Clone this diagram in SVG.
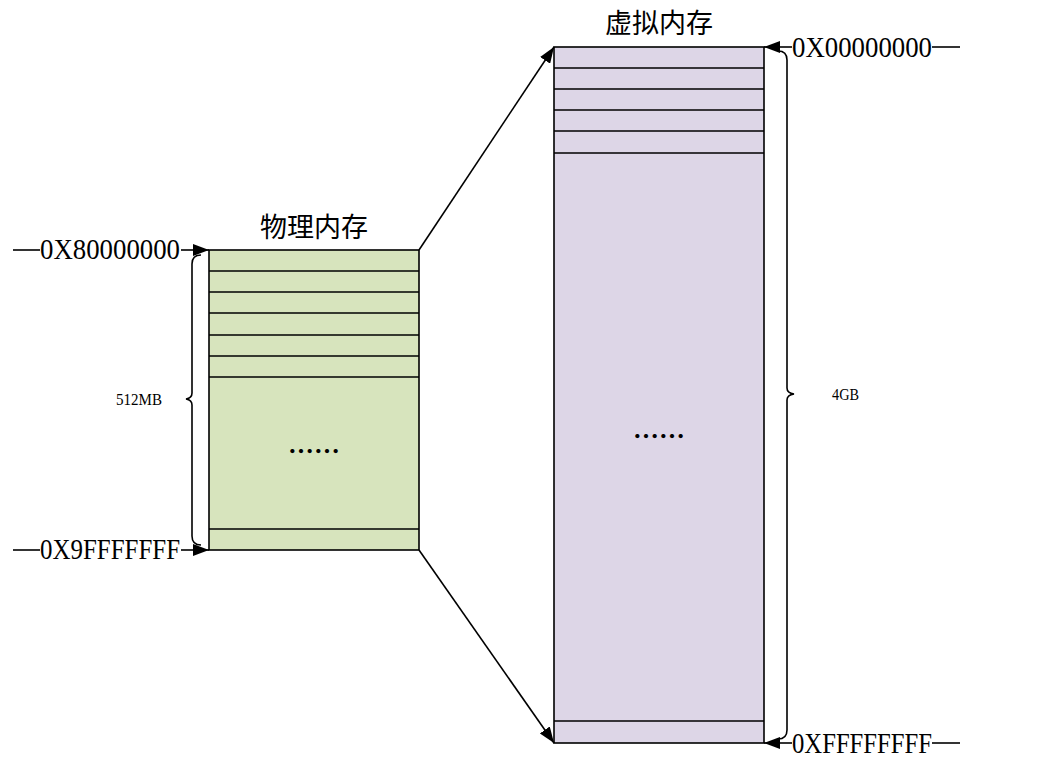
<svg xmlns="http://www.w3.org/2000/svg" width="1045" height="761" viewBox="0 0 1045 761">
<style>
.box{stroke:#000;stroke-width:1.6}
.ln{stroke:#000;stroke-width:1.6;fill:none}
.addr{font-family:"Liberation Serif",serif;font-size:29px;fill:#000}
.small{font-family:"Liberation Serif",serif;font-size:17px;fill:#000}
.title{font-family:"Noto Sans CJK SC",sans-serif;font-size:27px;fill:#000}
.dots{font-family:"Noto Sans CJK SC",sans-serif;font-size:26px;font-weight:bold;fill:#000}
</style>
<defs>
<marker id="ah" viewBox="0 0 16 12" refX="16" refY="6" markerWidth="16" markerHeight="12" markerUnits="userSpaceOnUse" orient="auto">
<path d="M0,0 L16,6 L0,12 Z" fill="#000"/>
</marker>
</defs>
<rect width="1045" height="761" fill="#fff"/>
<g id="physical">
<rect class="box" x="209" y="250" width="210" height="300" fill="#d7e4bd"/>
<path class="ln" d="M209,271H419M209,292H419M209,313H419M209,335H419M209,356H419M209,377H419M209,529H419"/>
<text class="title" x="314" y="237" text-anchor="middle">物理内存</text>
<text class="dots" x="314" y="461" text-anchor="middle" textLength="52" lengthAdjust="spacingAndGlyphs">……</text>
</g>
<g id="virtual">
<rect class="box" x="554" y="47" width="210" height="696" fill="#ddd6e7"/>
<path class="ln" d="M554,68H764M554,89H764M554,110H764M554,131H764M554,153H764M554,721H764"/>
<text class="title" x="659" y="33" text-anchor="middle">虚拟内存</text>
<text class="dots" x="659" y="446" text-anchor="middle" textLength="52" lengthAdjust="spacingAndGlyphs">……</text>
</g>
<g id="label-phys-start">
<line class="ln" x1="13" y1="250" x2="40" y2="250"/>
<text class="addr" x="40" y="259" textLength="140" lengthAdjust="spacingAndGlyphs">0X80000000</text>
<line class="ln" x1="181" y1="250" x2="209" y2="250" marker-end="url(#ah)"/>
</g>
<g id="label-phys-end">
<line class="ln" x1="13" y1="550" x2="40" y2="550"/>
<text class="addr" x="40" y="559" textLength="140" lengthAdjust="spacingAndGlyphs">0X9FFFFFFF</text>
<line class="ln" x1="181" y1="550" x2="209" y2="550" marker-end="url(#ah)"/>
</g>
<g id="label-512mb">
<path class="ln" stroke-width="1.2" d="M201,255 Q192,255 192,264 V393 Q192,398 186,399 Q192,400 192,405 V536 Q192,545 201,545"/>
<text class="small" x="116" y="405" textLength="46" lengthAdjust="spacingAndGlyphs">512MB</text>
</g>
<g id="label-virt-start">
<line class="ln" x1="792" y1="47" x2="764" y2="47" marker-end="url(#ah)"/>
<text class="addr" x="792" y="57" textLength="140" lengthAdjust="spacingAndGlyphs">0X00000000</text>
<line class="ln" x1="932" y1="47" x2="960" y2="47"/>
</g>
<g id="label-virt-end">
<line class="ln" x1="792" y1="743" x2="764" y2="743" marker-end="url(#ah)"/>
<text class="addr" x="792" y="753" textLength="140" lengthAdjust="spacingAndGlyphs">0XFFFFFFFF</text>
<line class="ln" x1="932" y1="743" x2="960" y2="743"/>
</g>
<g id="label-4gb">
<path class="ln" stroke-width="1.2" d="M778,51 Q787,51 787,60 V388 Q787,393 794,394 Q787,395 787,400 V730 Q787,739 778,739"/>
<text class="small" x="832" y="400" textLength="27" lengthAdjust="spacingAndGlyphs">4GB</text>
</g>
<g id="connectors">
<line class="ln" x1="419" y1="250" x2="554" y2="47" marker-end="url(#ah)"/>
<line class="ln" x1="419" y1="550" x2="554" y2="743" marker-end="url(#ah)"/>
</g>
</svg>
